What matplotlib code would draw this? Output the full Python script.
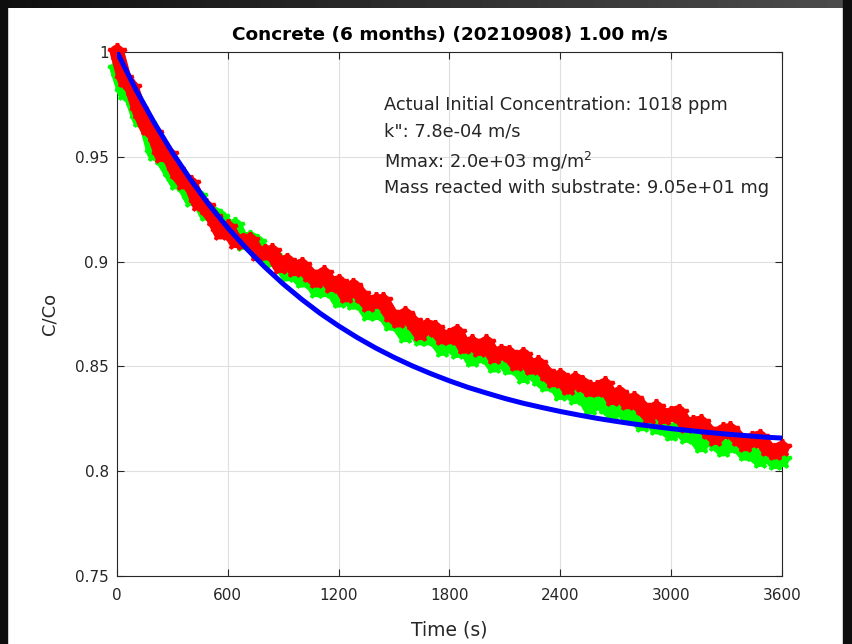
import matplotlib
matplotlib.use('Agg')
import matplotlib.pyplot as plt
import numpy as np

plt.rcParams['font.family'] = ['DejaVu Sans']

# measured samples, every 40 s
time_s = np.arange(0, 3601, 40)
red_cc = [1.000, 0.987, 0.983, 0.972, 0.964, 0.961, 0.951, 0.951, 0.943, 0.938,
          0.937, 0.928, 0.926, 0.921, 0.914, 0.916, 0.910, 0.9095, 0.910, 0.904,
          0.904, 0.9045, 0.898, 0.900, 0.8965, 0.898, 0.894, 0.891, 0.894, 0.889,
          0.890, 0.884, 0.888, 0.884, 0.880, 0.881, 0.881, 0.875, 0.872, 0.8745,
          0.871, 0.866, 0.869, 0.868, 0.864, 0.864, 0.866, 0.8595, 0.861, 0.8585,
          0.861, 0.855, 0.8565, 0.856, 0.8515, 0.855, 0.8495, 0.851, 0.847, 0.8435,
          0.845, 0.840, 0.8435, 0.8415, 0.839, 0.839, 0.841, 0.835, 0.837, 0.833,
          0.834, 0.8305, 0.8265, 0.830, 0.826, 0.827, 0.828, 0.822, 0.8225, 0.823,
          0.819, 0.816, 0.819, 0.8195, 0.816, 0.813, 0.815, 0.816, 0.811, 0.809,
          0.811]
green_cc = [0.992, 0.981, 0.978, 0.968, 0.965, 0.952, 0.950, 0.944, 0.938, 0.937,
            0.930, 0.931, 0.923, 0.923, 0.921, 0.916, 0.917, 0.909, 0.911, 0.909,
            0.903, 0.901, 0.900, 0.894, 0.895, 0.891, 0.8925, 0.8865, 0.8865, 0.8875,
            0.8815, 0.8835, 0.8805, 0.8815, 0.8755, 0.8755, 0.8765, 0.8705, 0.8705, 0.865,
            0.8685, 0.8635, 0.8635, 0.8635, 0.8585, 0.8605, 0.8575, 0.860, 0.8535, 0.855,
            0.8555, 0.8505, 0.854, 0.8495, 0.850, 0.8455, 0.848, 0.8445, 0.8415, 0.844,
            0.8375, 0.839, 0.8355, 0.837, 0.8305, 0.8335, 0.831, 0.828, 0.831, 0.8265,
            0.827, 0.8225, 0.8265, 0.821, 0.821, 0.818, 0.821, 0.817, 0.8175, 0.8125,
            0.8165, 0.8135, 0.8105, 0.8125, 0.8125, 0.8085, 0.8085, 0.8055, 0.8085, 0.8045,
            0.8055]

# fitted model, every 100 s
fit_t = np.arange(0, 3601, 100)
fit_cc = [1.0000, 0.9824, 0.9665, 0.9520, 0.9389, 0.9269, 0.9161, 0.9063, 0.8974, 0.8893,
          0.8820, 0.8753, 0.8693, 0.8638, 0.8588, 0.8543, 0.8502, 0.8465, 0.8431, 0.8400,
          0.8373, 0.8347, 0.8324, 0.8304, 0.8285, 0.8268, 0.8252, 0.8238, 0.8225, 0.8214,
          0.8203, 0.8194, 0.8185, 0.8177, 0.8170, 0.8163, 0.8158]

notes = ['Actual Initial Concentration: 1018 ppm',
         'k": 7.8e-04 m/s',
         'Mmax: 2.0e+03 mg/m$^2$',
         'Mass reacted with substrate: 9.05e+01 mg']

fig = plt.figure(figsize=(8.53, 6.44), dpi=100)
fig.patch.set_facecolor('white')

# dark window frame
fig.patches.append(plt.Rectangle((0, 0), 7/853, 1, transform=fig.transFigure, color='#0e0e0e', zorder=0))
fig.patches.append(plt.Rectangle((843/853, 0), 10/853, 1, transform=fig.transFigure, color='#0e0e0e', zorder=0))
top = fig.add_axes([0, 1 - 8/644, 1, 8/644])
top.imshow(np.linspace(0.06, 0.30, 200)[None, :], cmap='gray', vmin=0, vmax=1, aspect='auto')
top.axis('off')

ax = fig.add_axes([117/853, 68/644, 665/853, 524/644])
for yy, col, z in [(green_cc, (0, 1, 0), 3), (red_cc, (1, 0, 0), 4)]:
    ax.plot(time_s, yy, '-', color=col, lw=10.5, solid_joinstyle='round', solid_capstyle='round',
            clip_on=False, zorder=z)
    ax.plot(time_s, yy, '*', color=col, ms=13, mew=2.5, clip_on=False, zorder=z)
ax.plot(fit_t, fit_cc, '-', color=(0, 0, 1), lw=3.6, zorder=5)

ax.set_xlim(0, 3600)
ax.set_ylim(0.75, 1)
ax.set_xticks(range(0, 3601, 600))
ax.set_yticks([0.75, 0.8, 0.85, 0.9, 0.95, 1])
ax.set_yticklabels(['0.75', '0.8', '0.85', '0.9', '0.95', '1'])
ax.tick_params(direction='in', top=True, right=True, labelsize=11, colors='#262626', length=5)
ax.tick_params(axis='x', pad=9)
ax.tick_params(axis='y', pad=6)
ax.grid(True, color='#dfdfdf', lw=0.8)
ax.set_axisbelow(True)
for s in ax.spines.values():
    s.set_color('#262626')
    s.set_linewidth(0.8)

ax.set_xlabel('Time (s)', fontsize=13.5, color='#262626', labelpad=12)
ax.set_ylabel('C/Co', fontsize=13, color='#262626', labelpad=12)
ax.set_title('Concrete (6 months) (20210908) 1.00 m/s', fontsize=13.3, fontweight='bold', pad=9)

ypos = [0.8893, 0.8384, 0.7781, 0.7303]
for txt, yy in zip(notes, ypos):
    ax.text(0.4015, yy, txt, transform=ax.transAxes, fontsize=12.8, color='#262626', va='baseline')

fig.savefig('out.png', dpi=100)
